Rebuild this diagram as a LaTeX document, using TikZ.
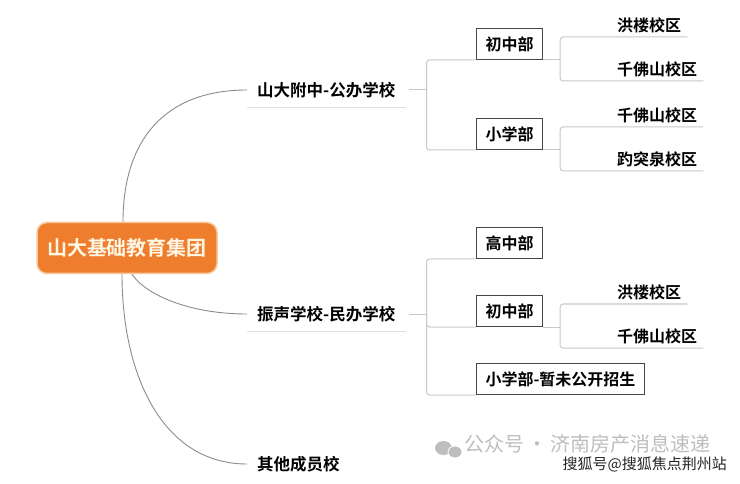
\documentclass[tikz,border=0pt]{standalone}
\usepackage{fontspec}
\setmainfont{Noto Sans CJK SC}[BoldFont={Noto Sans CJK SC Bold}]
\usetikzlibrary{positioning,calc}
\definecolor{rootOrange}{RGB}{238,125,45}
\definecolor{rootRim}{RGB}{250,200,150}
\definecolor{rootText}{RGB}{255,246,228}
\definecolor{curveGray}{RGB}{140,140,140}
\definecolor{lineGray}{RGB}{200,200,200}
\definecolor{underGray}{RGB}{225,225,225}
\definecolor{boxGray}{RGB}{70,70,70}
\definecolor{markGray}{RGB}{190,190,190}
\tikzset{
  rootbox/.style={fill=rootOrange,draw=rootRim,line width=1.5pt,rounded corners=10pt,
    minimum width=180pt,minimum height=51pt,text=rootText,font=\fontsize{20}{22}\selectfont\bfseries},
  branch/.style={inner xsep=10pt,inner ysep=9.5pt,font=\fontsize{16.5}{18}\selectfont\bfseries},
  deptbox/.style={draw=boxGray,line width=1.1pt,inner xsep=9pt,minimum height=31pt,
    font=\fontsize{16}{18}\selectfont\bfseries},
  campus/.style={inner xsep=6pt,inner ysep=4pt,font=\fontsize{16}{18}\selectfont\bfseries},
  curve/.style={curveGray,line width=0.9pt},
  link/.style={lineGray,line width=1pt,rounded corners=3pt},
}
\begin{document}
\begin{tikzpicture}[x=1pt,y=-1pt]
  \useasboundingbox[fill=white] (0,0) rectangle (740,484);
  % root
  \node[rootbox] (root) at (127,248) {山大基础教育集团};
  % first level
  \node[branch,anchor=west] (fuzhong) at (247,90) {山大附中-公办学校};
  \node[branch,anchor=west] (zhensheng) at (247,314) {振声学校-民办学校};
  \node[branch,anchor=west] (qita) at (247,464) {其他成员校};
  \draw[underGray,line width=1pt] (fuzhong.south west) -- (fuzhong.south east);
  \draw[underGray,line width=1pt] (zhensheng.south west) -- (zhensheng.south east);
  \draw[curve] ([xshift=-4pt]root.north) .. controls +(0,-82) and +(-82,0) .. (fuzhong.west);
  \draw[curve] ([xshift=5pt]root.south) .. controls +(15,22) and +(-55,0) .. (zhensheng.west);
  \draw[curve] ([xshift=-5pt]root.south) .. controls +(0,100) and +(-85,0) .. (qita.west);
  % fuzhong departments
  \draw[link] ([xshift=3pt]fuzhong.east) -- ++(18,0) coordinate (jA);
  \node[deptbox,anchor=south west] (chuA) at (476,60) {初中部};
  \node[deptbox,anchor=south west] (xiaoA) at (476,150) {小学部};
  \draw[link] (jA) |- (chuA.south west);
  \draw[link] (jA) |- (xiaoA.south west);
  \draw[link] (chuA.south east) -- ++(17,0) coordinate (kA);
  \draw[link] (xiaoA.south east) -- ++(17,0) coordinate (mA);
  \node[campus,anchor=south west] (honglouA) at (611,37) {洪楼校区};
  \node[campus,anchor=south west] (qianfoA) at (611,81) {千佛山校区};
  \node[campus,anchor=south west] (qianfoB) at (611,127) {千佛山校区};
  \node[campus,anchor=south west] (baotuB) at (611,171) {趵突泉校区};
  \draw[link] (honglouA.south east) -| (kA) |- (qianfoA.south east);
  \draw[link] (qianfoB.south east) -| (mA) |- (baotuB.south east);
  % zhensheng departments
  \draw[link] ([xshift=3pt]zhensheng.east) -- ++(18,0) coordinate (jB);
  \node[deptbox,anchor=south west] (gaoB) at (476,259) {高中部};
  \node[deptbox,anchor=south west] (chuB) at (476,327) {初中部};
  \node[deptbox,anchor=south west] (xiaoB) at (476,395) {小学部-暂未公开招生};
  \draw[link] (jB) |- (gaoB.south west);
  \draw[link] (jB) |- (chuB.south west);
  \draw[link] (jB) |- (xiaoB.south west);
  \draw[link] (chuB.south east) -- ++(17,0) coordinate (kB);
  \node[campus,anchor=south west] (honglouC) at (611,304) {洪楼校区};
  \node[campus,anchor=south west] (qianfoC) at (611,348) {千佛山校区};
  \draw[link] (honglouC.south east) -| (kB) |- (qianfoC.south east);
  % watermark
  \fill[markGray] (443.5,448) ellipse [x radius=8.5pt,y radius=7pt];
  \fill[markGray,draw=white,line width=0.8pt] (455,452) ellipse [x radius=7pt,y radius=6pt];
  \node[anchor=west,inner sep=0pt,text=markGray,font=\fontsize{20}{22}\selectfont] (gzh) at (464,444) {公众号\,·\,济南房产消息速递};
  \node[anchor=east,inner sep=0pt,text=black!85,font=\fontsize{15}{17}\selectfont] (sohu) at (727,464) {搜狐号@搜狐焦点荆州站};
\end{tikzpicture}
\end{document}
